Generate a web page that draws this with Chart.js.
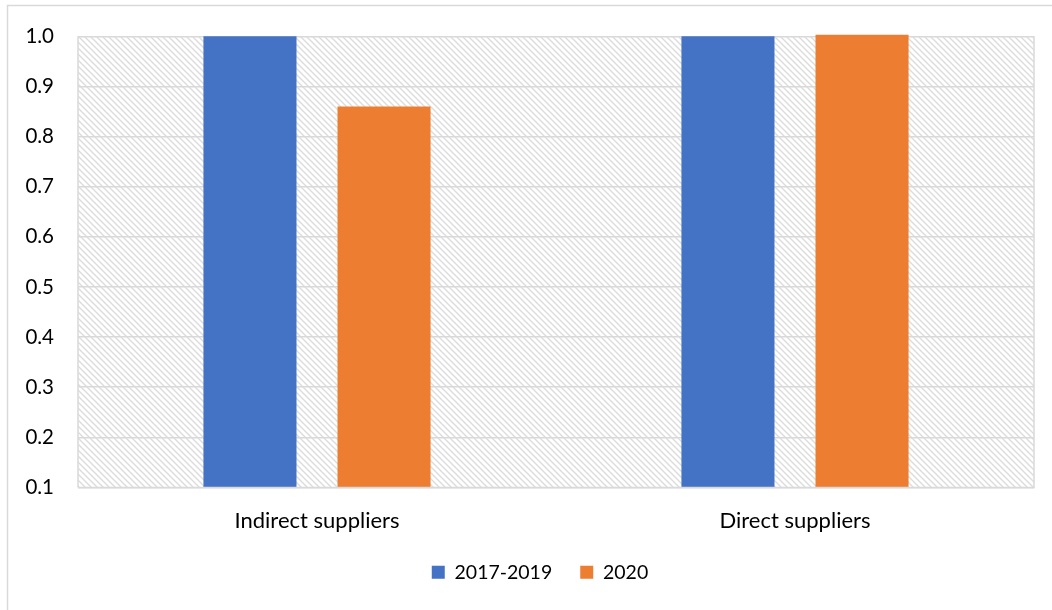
<!DOCTYPE html>
<html>
<head>
<meta charset="utf-8">
<script src="https://cdn.jsdelivr.net/npm/chart.js@4/dist/chart.umd.min.js"></script>
<style>
  html, body { margin: 0; padding: 0; background: #ffffff; }
  #wrap { width: 1052px; height: 610px; position: relative; }
</style>
</head>
<body>
<div id="wrap"><canvas id="c" width="1052" height="610"></canvas></div>
<script>
const categories = ["Indirect suppliers", "Direct suppliers"];
const seriesNames = ["2017-2019", "2020"];
const series2017_2019 = [1.0, 1.0];
const series2020 = [0.86, 1.003];
const yMin = 0.1, yMax = 1.0, yStep = 0.1;

const FONT = "Lato, 'Open Sans', sans-serif";

function makeHatch() {
  const s = 6;
  const p = document.createElement('canvas');
  p.width = s; p.height = s;
  const g = p.getContext('2d');
  g.strokeStyle = '#dcdcdc';
  g.lineWidth = 1.4;
  g.beginPath();
  g.moveTo(-1, -1); g.lineTo(s + 1, s + 1);
  g.moveTo(-1, s - 1); g.lineTo(1, s + 1);
  g.moveTo(s - 1, -1); g.lineTo(s + 1, 1);
  g.stroke();
  return p;
}

const framePlugin = {
  id: 'frame',
  afterLayout(chart) {
    if (chart.legend) {
      chart.legend.left += 23;
      chart.legend.right += 23;
    }
  },
  beforeDraw(chart) {
    const ctx = chart.ctx;
    const a = chart.chartArea;
    ctx.save();
    ctx.fillStyle = '#ffffff';
    ctx.fillRect(0, 0, chart.width, chart.height);
    ctx.strokeStyle = '#d9d9d9';
    ctx.lineWidth = 1.5;
    ctx.beginPath();
    ctx.moveTo(7.5, chart.height);
    ctx.lineTo(7.5, 5.5);
    ctx.lineTo(chart.width, 5.5);
    ctx.stroke();
    const pat = ctx.createPattern(makeHatch(), 'repeat');
    ctx.fillStyle = pat;
    ctx.fillRect(a.left, a.top, a.right - a.left, a.bottom - a.top);
    ctx.restore();
  },
  afterDatasetsDraw(chart) {
    const ctx = chart.ctx;
    const a = chart.chartArea;
    ctx.save();
    ctx.strokeStyle = '#d9d9d9';
    ctx.lineWidth = 1.5;
    ctx.beginPath();
    ctx.moveTo(a.left, a.bottom);
    ctx.lineTo(a.left, a.top);
    ctx.moveTo(a.right, a.top);
    ctx.lineTo(a.right, a.bottom);
    ctx.lineTo(a.left, a.bottom);
    ctx.stroke();
    ctx.restore();
  }
};

new Chart(document.getElementById('c'), {
  type: 'bar',
  data: {
    labels: categories,
    datasets: [
      { label: seriesNames[0], data: series2017_2019, backgroundColor: '#4472C4', borderWidth: 0, clip: { left: 0, right: 0, bottom: 0, top: 4 } },
      { label: seriesNames[1], data: series2020, backgroundColor: '#ED7D31', borderWidth: 0, clip: { left: 0, right: 0, bottom: 0, top: 4 } }
    ]
  },
  options: {
    responsive: false,
    animation: false,
    devicePixelRatio: 1,
    categoryPercentage: 0.561,
    barPercentage: 0.694,
    layout: { padding: { left: 0, right: 18, top: 27, bottom: 18 } },
    scales: {
      x: {
        grid: { display: false, drawTicks: false },
        border: { display: false },
        ticks: { color: '#000000', font: { family: FONT, size: 22 }, padding: 20 },
        afterFit(scale) { scale.height = 47; }
      },
      y: {
        min: yMin, max: yMax,
        grid: { color: '#d9d9d9', lineWidth: 1.5, drawTicks: false },
        border: { display: false },
        ticks: {
          stepSize: yStep,
          color: '#000000',
          font: { family: FONT, size: 20.5 },
          padding: 24,
          callback: (v) => Number(v).toFixed(1)
        },
        afterFit(scale) { scale.width = 78; }
      }
    },
    plugins: {
      legend: {
        position: 'bottom',
        labels: {
          color: '#000000',
          font: { family: FONT, size: 19.5 },
          boxWidth: 13, boxHeight: 13,
          padding: 28
        }
      },
      tooltip: { enabled: false }
    }
  },
  plugins: [framePlugin]
});
</script>
</body>
</html>
